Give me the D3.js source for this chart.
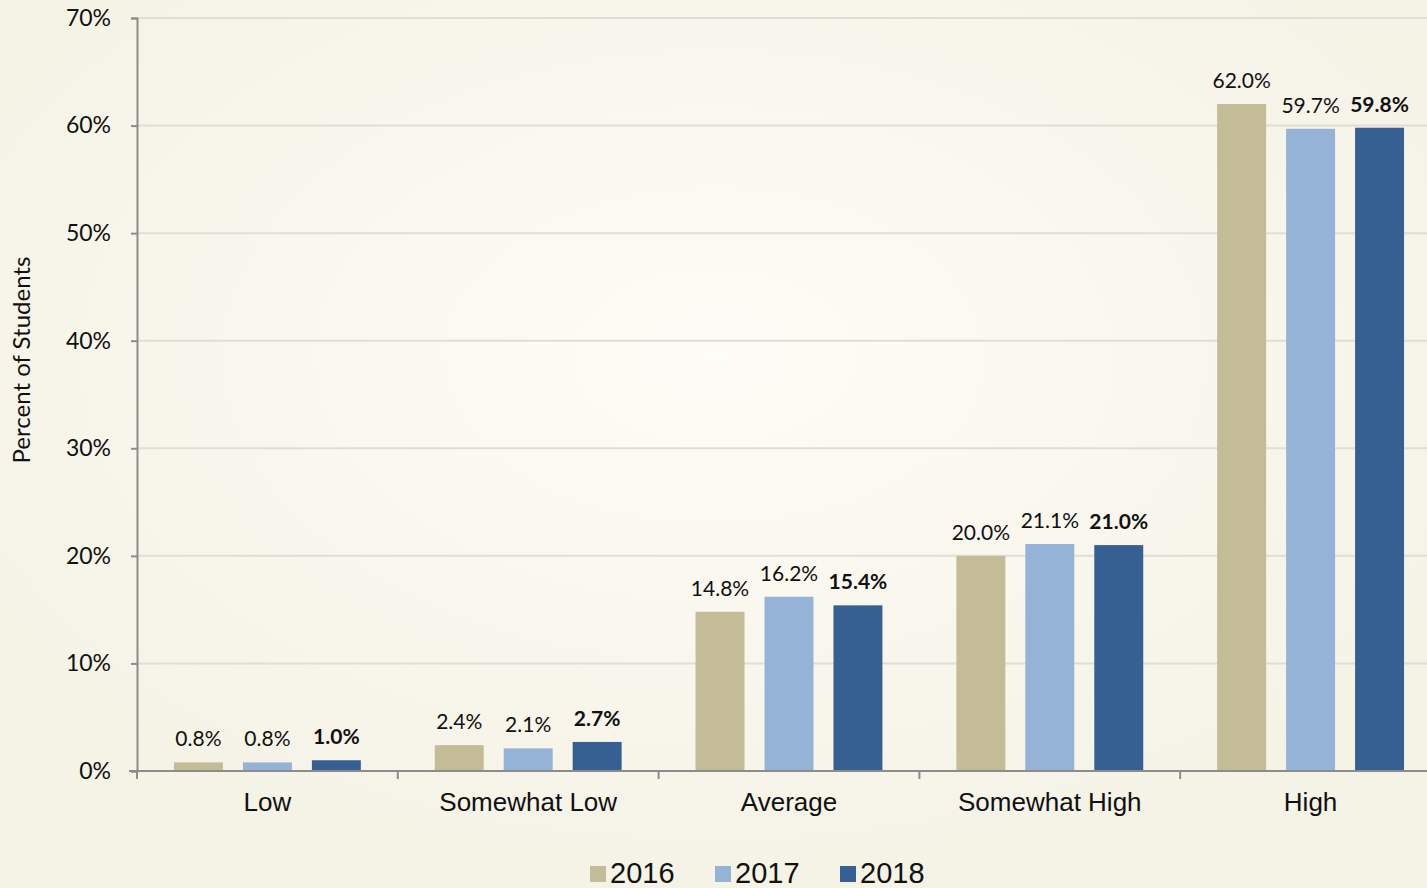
<!DOCTYPE html>
<html lang="en">
  <head>
    <meta charset="utf-8" />
    <title>Percent of Students</title>
    <style>
      html, body { margin: 0; padding: 0; overflow: hidden; }
    </style>
  </head>
  <body>
    <svg id="viz"></svg>
    <script src="https://cdn.jsdelivr.net/npm/d3@7"></script>
    <script>
        var categories = ["Low", "Somewhat Low", "Average", "Somewhat High", "High"];
        var years = ["2016", "2017", "2018"];
        var values2016 = [0.8, 2.4, 14.8, 20.0, 62.0];
        var values2017 = [0.8, 2.1, 16.2, 21.1, 59.7];
        var values2018 = [1.0, 2.7, 15.4, 21.0, 59.8];
        var yTicks = [0, 10, 20, 30, 40, 50, 60, 70];
        var colors = ["#c4bc96", "#95b3d7", "#366092"];

        var series = [values2016, values2017, values2018];

        var width = 1427;
        var height = 888;
        var margin = {top: 18, right: -14, bottom: 117, left: 137};

        var svg = d3.select("#viz")
            .attr("width", width)
            .attr("height", height);

        // background glow
        var grad = svg.append("defs").append("radialGradient")
            .attr("id", "bg")
            .attr("cx", "50%").attr("cy", "40%").attr("r", "60%");
        grad.append("stop").attr("offset", "0%").attr("stop-color", "#fefcf6");
        grad.append("stop").attr("offset", "100%").attr("stop-color", "#f5f2e6");
        svg.append("rect")
            .attr("width", width)
            .attr("height", height)
            .attr("fill", "url(#bg)");

        var x0 = d3.scaleBand()
            .domain(categories)
            .range([margin.left, width - margin.right])
            .paddingInner(0)
            .paddingOuter(0);

        var x1 = d3.scaleBand()
            .domain(years)
            .range([0, x0.bandwidth()])
            .paddingInner(0.29)
            .paddingOuter(0.536);

        var y = d3.scaleLinear()
            .domain([0, 70])
            .range([height - margin.bottom, margin.top]);

        // gridlines
        svg.append("g")
            .selectAll("line")
            .data(yTicks.slice(1))
            .enter()
            .append("line")
            .attr("x1", margin.left)
            .attr("x2", width)
            .attr("y1", function(d) { return y(d); })
            .attr("y2", function(d) { return y(d); })
            .attr("stroke", "#e0ded6")
            .attr("stroke-width", 2);

        // bars
        var groups = svg.append("g")
            .selectAll("g")
            .data(categories)
            .enter()
            .append("g")
            .attr("transform", function(d) { return "translate(" + x0(d) + ",0)"; });

        groups.selectAll("rect")
            .data(function(d, i) { return years.map(function(yr, j) { return {year: yr, value: series[j][i]}; }); })
            .enter()
            .append("rect")
            .attr("x", function(d) { return x1(d.year); })
            .attr("width", x1.bandwidth())
            .attr("y", function(d) { return y(d.value); })
            .attr("height", function(d) { return y(0) - y(d.value); })
            .attr("fill", function(d, j) { return colors[j]; });

        groups.selectAll("text")
            .data(function(d, i) { return years.map(function(yr, j) { return {year: yr, value: series[j][i]}; }); })
            .enter()
            .append("text")
            .attr("x", function(d) { return x1(d.year) + x1.bandwidth() / 2; })
            .attr("y", function(d) { return y(d.value) - 16; })
            .attr("text-anchor", "middle")
            .style("font-family", "Lato, 'Open Sans', sans-serif")
            .style("font-size", "21px")
            .style("font-weight", function(d) { return d.year === "2018" ? "bold" : "normal"; })
            .style("fill", "#111")
            .text(function(d) { return d.value.toFixed(1) + "%"; });

        // y axis
        var yAxis = svg.append("g")
            .attr("transform", "translate(" + margin.left + ",0)")
            .call(d3.axisLeft(y).tickValues(yTicks).tickSize(6).tickPadding(20)
                .tickFormat(function(d) { return d + "%"; }));
        yAxis.select(".domain").attr("stroke", "#8c8c8c").attr("stroke-width", 2);
        yAxis.selectAll(".tick line").attr("stroke", "#8c8c8c").attr("stroke-width", 2);
        yAxis.selectAll("text")
            .style("font-family", "Lato, 'Open Sans', sans-serif")
            .style("font-size", "23px")
            .style("fill", "#111");

        // x axis
        var boundaries = categories.map(function(c) { return x0(c); });
        var xAxisG = svg.append("g");
        xAxisG.append("line")
            .attr("x1", margin.left - 8)
            .attr("x2", width)
            .attr("y1", y(0))
            .attr("y2", y(0))
            .attr("stroke", "#8c8c8c")
            .attr("stroke-width", 2);
        xAxisG.selectAll("line.tk")
            .data(boundaries)
            .enter()
            .append("line")
            .attr("class", "tk")
            .attr("x1", function(d) { return d; })
            .attr("x2", function(d) { return d; })
            .attr("y1", y(0))
            .attr("y2", y(0) + 8)
            .attr("stroke", "#8c8c8c")
            .attr("stroke-width", 2);
        xAxisG.selectAll("text")
            .data(categories)
            .enter()
            .append("text")
            .attr("x", function(d) { return x0(d) + x0.bandwidth() / 2; })
            .attr("y", y(0) + 40)
            .attr("text-anchor", "middle")
            .style("font-family", "'Liberation Sans', Arial, sans-serif")
            .style("font-size", "26px")
            .style("fill", "#111")
            .text(function(d) { return d; });

        // y axis title
        svg.append("text")
            .attr("transform", "translate(30,360) rotate(-90)")
            .attr("text-anchor", "middle")
            .style("font-family", "Lato, 'Open Sans', sans-serif")
            .style("font-size", "24px")
            .style("fill", "#111")
            .text("Percent of Students");

        // legend
        var legendX = [590, 715, 840];
        var legend = svg.append("g")
            .selectAll("g")
            .data(years)
            .enter()
            .append("g")
            .attr("transform", function(d, i) { return "translate(" + legendX[i] + ",866)"; });
        legend.append("rect")
            .attr("width", 16)
            .attr("height", 16)
            .attr("fill", function(d, i) { return colors[i]; });
        legend.append("text")
            .attr("x", 20)
            .attr("y", 17)
            .style("font-family", "'Liberation Sans', Arial, sans-serif")
            .style("font-size", "29px")
            .style("fill", "#111")
            .text(function(d) { return d; });
    </script>
  </body>
</html>
